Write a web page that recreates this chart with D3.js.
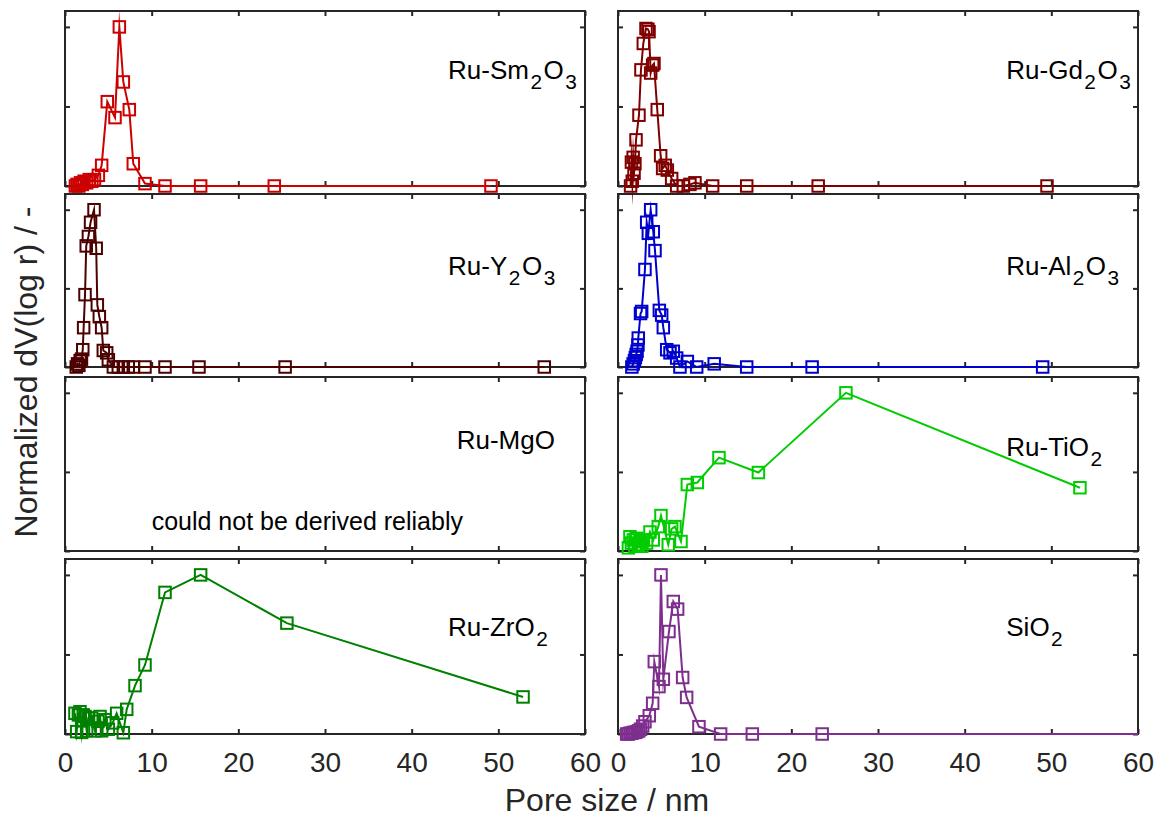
<!DOCTYPE html>
<html>
<head>
<meta charset="utf-8">
<script src="https://cdn.jsdelivr.net/npm/d3@7"></script>
<style>
  body { margin: 0; background: #fff; }
  svg { display: block; font-family: "Liberation Sans", Arial, Helvetica, sans-serif; }
</style>
</head>
<body>
<svg id="chart" width="1157" height="817"></svg>
<script>
// Axis ticks shared by every panel
const xTicks = [0, 10, 20, 30, 40, 50, 60];
const yTicks = [0, 0.5, 1];

// Pore size (nm) and normalized dV(log r) per sample
const smX = [1.2, 1.4, 1.6, 1.8, 2.0, 2.2, 2.5, 2.8, 3.1, 3.4, 3.85, 4.23, 4.88, 5.77, 6.27, 6.73, 7.42, 7.88, 9.23, 11.54, 15.65, 24.15, 49.15];
const smY = [0.0, 0.01, 0.0, 0.02, 0.01, 0.03, 0.02, 0.04, 0.03, 0.04, 0.067, 0.13, 0.53, 0.43, 1.0, 0.654, 0.48, 0.14, 0.015, 0.0, 0.0, 0.0, 0.0];

const gdX = [1.45, 1.55, 1.65, 1.75, 1.85, 1.95, 2.08, 2.42, 2.65, 2.92, 3.23, 3.45, 3.58, 3.77, 4.0, 4.15, 4.53, 4.92, 5.15, 5.45, 5.69, 6.19, 6.77, 7.54, 8.3, 8.88, 10.92, 14.85, 23.1, 49.5];
const gdY = [0.0, 0.15, 0.03, 0.18, 0.08, 0.14, 0.29, 0.445, 0.73, 0.896, 0.99, 0.985, 0.97, 0.71, 0.76, 0.77, 0.48, 0.19, 0.11, 0.13, 0.1, 0.047, 0.0, 0.0, 0.01, 0.02, 0.0, 0.0, 0.0, 0.0];

const yoX = [1.3, 1.45, 1.6, 1.75, 1.9, 2.05, 2.15, 2.31, 2.45, 2.7, 2.95, 3.35, 3.6, 3.73, 3.96, 4.23, 4.42, 4.81, 5.0, 5.58, 6.15, 6.73, 7.3, 7.88, 9.23, 11.54, 15.46, 25.4, 55.3];
const yoY = [0.0, 0.02, 0.01, 0.04, 0.05, 0.11, 0.25, 0.46, 0.77, 0.83, 0.92, 1.0, 0.755, 0.395, 0.32, 0.25, 0.105, 0.09, 0.046, 0.0, 0.0, 0.0, 0.0, 0.0, 0.0, 0.0, 0.0, 0.0, 0.0];

const alX = [1.6, 1.75, 1.9, 2.0, 2.1, 2.2, 2.3, 2.34, 2.6, 2.73, 3.11, 3.31, 3.5, 3.77, 4.07, 4.27, 4.77, 5.04, 5.23, 5.62, 6.0, 6.38, 6.77, 7.15, 8.0, 9.08, 11.1, 14.85, 22.4, 49.0];
const alY = [0.0, 0.02, 0.04, 0.06, 0.08, 0.1, 0.14, 0.184, 0.34, 0.353, 0.62, 0.92, 0.85, 1.0, 0.86, 0.74, 0.36, 0.33, 0.25, 0.11, 0.09, 0.1, 0.057, 0.0, 0.035, 0.0, 0.02, 0.0, 0.0, 0.0];

const tiX = [1.2, 1.38, 1.55, 1.77, 1.95, 2.15, 2.35, 2.54, 2.75, 2.92, 3.3, 3.69, 4.07, 4.65, 4.96, 5.8, 6.19, 6.57, 7.27, 8.0, 9.15, 11.65, 16.2, 26.3, 53.3];
const tiY = [0.02, 0.09, 0.05, 0.07, 0.03, 0.08, 0.04, 0.06, 0.03, 0.07, 0.05, 0.12, 0.07, 0.154, 0.224, 0.04, 0.14, 0.154, 0.06, 0.42, 0.433, 0.59, 0.496, 1.0, 0.40];

const zrX = [1.15, 1.35, 1.55, 1.73, 1.92, 2.1, 2.31, 2.5, 2.69, 3.08, 3.46, 3.8, 4.04, 4.23, 4.6, 5.0, 5.5, 5.96, 6.73, 7.12, 8.08, 9.23, 11.54, 15.65, 25.6, 52.85];
const zrY = [0.13, 0.015, 0.12, 0.14, 0.01, 0.12, 0.11, 0.02, 0.1, 0.1, 0.02, 0.08, 0.11, 0.02, 0.09, 0.03, 0.07, 0.13, 0.008, 0.155, 0.304, 0.434, 0.89, 1.0, 0.697, 0.233];

const siX = [1.0, 1.2, 1.4, 1.6, 1.8, 2.0, 2.2, 2.4, 2.6, 2.85, 3.11, 3.61, 4.0, 4.19, 4.73, 4.96, 5.23, 5.88, 6.38, 6.88, 7.46, 7.92, 9.34, 11.84, 15.5, 23.56, 70.0];
const siY = [0.0, 0.0, 0.005, 0.005, 0.01, 0.01, 0.015, 0.02, 0.03, 0.05, 0.077, 0.115, 0.193, 0.455, 0.298, 1.0, 0.344, 0.644, 0.833, 0.785, 0.355, 0.23, 0.046, 0.0, 0.0, 0.0, 0.0];

// Sample names ("_" marks a subscript digit)
const sampleLabels = ["Ru-Sm_2O_3", "Ru-Gd_2O_3", "Ru-Y_2O_3", "Ru-Al_2O_3", "Ru-MgO", "Ru-TiO_2", "Ru-ZrO_2", "SiO_2"];

// Grid of panels: column x-extents and row y-extents in pixels
const colX = [[65, 585], [618, 1138]];
const rowY = [[11, 186], [194, 367], [377, 551], [559, 734]];
const axisColor = "#262626";

const panels = [
  { label: sampleLabels[0], xs: smX, ys: smY, color: "#cc0000", row: 0, col: 0, lx: 44.2, ly: 0.73 },
  { label: sampleLabels[1], xs: gdX, ys: gdY, color: "#800000", row: 0, col: 1, lx: 44.8, ly: 0.73 },
  { label: sampleLabels[2], xs: yoX, ys: yoY, color: "#4d0000", row: 1, col: 0, lx: 44.2, ly: 0.64 },
  { label: sampleLabels[3], xs: alX, ys: alY, color: "#0000cc", row: 1, col: 1, lx: 44.8, ly: 0.64 },
  { label: sampleLabels[4], xs: null, ys: null, color: null, row: 2, col: 0, lx: 45.2, ly: 0.70,
    note: "could not be derived reliably" },
  { label: sampleLabels[5], xs: tiX, ys: tiY, color: "#00cc00", row: 2, col: 1, lx: 44.8, ly: 0.66 },
  { label: sampleLabels[6], xs: zrX, ys: zrY, color: "#008000", row: 3, col: 0, lx: 44.2, ly: 0.67 },
  { label: sampleLabels[7], xs: siX, ys: siY, color: "#7e2f8e", row: 3, col: 1, lx: 44.8, ly: 0.67 }
];

const svg = d3.select("#chart");
svg.append("rect").attr("width", 1157).attr("height", 817).attr("fill", "#fff");
const defs = svg.append("defs");

const tickLen = 5;
const markerSide = 11.5;
const labelSize = 26;

function styleAxis(sel) {
  sel.select(".domain").remove();
  sel.selectAll(".tick line").attr("stroke", axisColor).attr("stroke-width", 2);
  sel.selectAll(".tick text")
    .attr("fill", axisColor)
    .attr("font-size", 28)
    .attr("font-family", "\"Liberation Sans\", Arial, Helvetica, sans-serif");
  sel.attr("font-size", null).attr("font-family", null);
}

// Text with subscripts: "_d" lowers the digit d
function addRichText(g, str, x, y, size) {
  const t = g.append("text").attr("x", x).attr("y", y)
    .attr("font-size", size).attr("fill", "#000");
  const shift = 10;
  let inSub = false;
  str.split(/(_\d)/).filter(s => s.length).forEach(s => {
    if (s[0] === "_") {
      t.append("tspan").attr("font-size", size * 0.8)
        .attr("dx", 1.5).attr("dy", inSub ? 0 : shift).text(s.slice(1));
      inSub = true;
    } else {
      t.append("tspan").attr("dx", inSub ? 1.5 : 0).attr("dy", inSub ? -shift : 0).text(s);
      inSub = false;
    }
  });
  return t;
}

panels.forEach((p, i) => {
  const [x0, x1] = colX[p.col];
  const [y0, y1] = rowY[p.row];
  const x = d3.scaleLinear().domain([0, 60]).range([x0, x1]);
  const y = d3.scaleLinear().domain([0, 1.1]).range([y1, y0]);
  const g = svg.append("g");

  const showX = p.row === 3;
  // bottom and top x ticks (pointing inward)
  g.append("g").attr("transform", `translate(0,${y1})`)
    .call(d3.axisBottom(x).tickValues(xTicks).tickSizeInner(-tickLen).tickSizeOuter(0)
      .tickPadding(18).tickFormat(showX ? d3.format("d") : () => ""))
    .call(styleAxis);
  g.append("g").attr("transform", `translate(0,${y0})`)
    .call(d3.axisTop(x).tickValues(xTicks).tickSizeInner(-tickLen).tickSizeOuter(0).tickFormat(() => ""))
    .call(styleAxis);
  // left and right y ticks (pointing inward, unlabeled)
  g.append("g").attr("transform", `translate(${x0},0)`)
    .call(d3.axisLeft(y).tickValues(yTicks).tickSizeInner(-tickLen).tickSizeOuter(0).tickFormat(() => ""))
    .call(styleAxis);
  g.append("g").attr("transform", `translate(${x1},0)`)
    .call(d3.axisRight(y).tickValues(yTicks).tickSizeInner(-tickLen).tickSizeOuter(0).tickFormat(() => ""))
    .call(styleAxis);

  // box
  g.append("rect").attr("x", x0).attr("y", y0).attr("width", x1 - x0).attr("height", y1 - y0)
    .attr("fill", "none").attr("stroke", axisColor).attr("stroke-width", 2);

  // sample name
  addRichText(g, p.label, x(p.lx), y(p.ly) + 9, labelSize);
  if (p.note) {
    g.append("text").attr("x", x(10)).attr("y", y(0.19) + 9)
      .attr("font-size", 25).attr("fill", "#000").text(p.note);
  }

  if (!p.xs) return;

  const clipId = "clip" + i;
  defs.append("clipPath").attr("id", clipId)
    .append("rect").attr("x", x0).attr("y", 0).attr("width", x1 - x0).attr("height", 817);

  const pts = p.xs.map((v, k) => [v, p.ys[k]]);
  const data = g.append("g").attr("clip-path", `url(#${clipId})`);

  data.append("path")
    .datum(pts)
    .attr("d", d3.line().x(d => x(d[0])).y(d => y(d[1])))
    .attr("fill", "none")
    .attr("stroke", p.color)
    .attr("stroke-width", 2)
    .attr("stroke-linejoin", "miter")
    .attr("stroke-miterlimit", 30);

  data.selectAll("rect.mk")
    .data(pts)
    .join("rect")
    .attr("class", "mk")
    .attr("x", d => x(d[0]) - markerSide / 2)
    .attr("y", d => y(d[1]) - markerSide / 2)
    .attr("width", markerSide)
    .attr("height", markerSide)
    .attr("fill", "none")
    .attr("stroke", p.color)
    .attr("stroke-width", 2);
});

// axis titles
svg.append("text")
  .attr("x", 607).attr("y", 811)
  .attr("text-anchor", "middle")
  .attr("font-size", 32).attr("fill", axisColor)
  .text("Pore size / nm");

svg.append("text")
  .attr("transform", "translate(37,372) rotate(-90)")
  .attr("text-anchor", "middle")
  .attr("font-size", 32).attr("fill", axisColor)
  .text("Normalized dV(log r) / -");
</script>
</body>
</html>
